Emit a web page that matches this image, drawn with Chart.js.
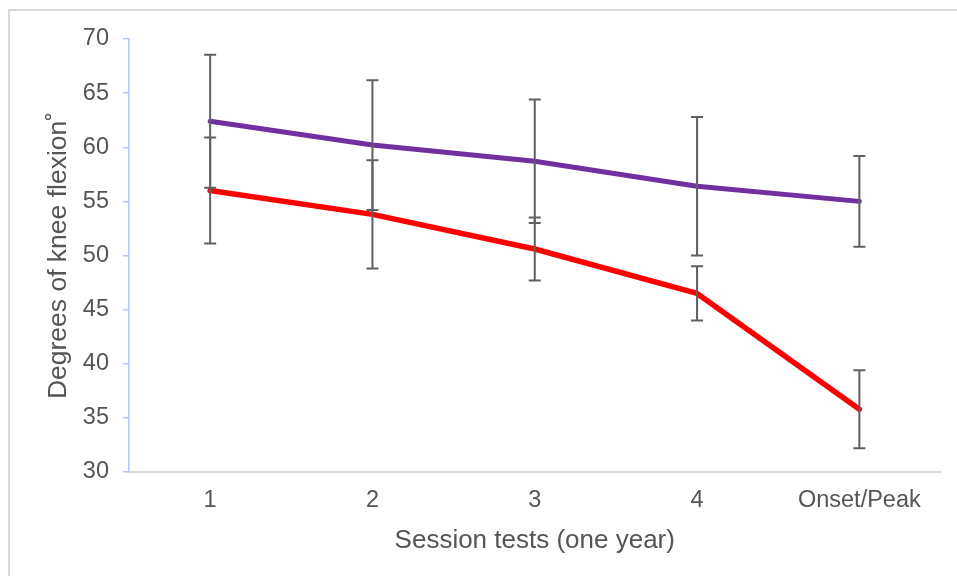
<!DOCTYPE html>
<html>

<head>
  <title>Knee flexion by session</title>
  <script src="https://cdn.jsdelivr.net/npm/chart.js"></script>
  <style>
    body {
      margin: 0;
      width: 957px;
      height: 576px;
      overflow: hidden;
      background: #fff;
      position: relative;
    }
    .frame {
      position: absolute;
      left: 8px; top: 9px;
      width: 980px; height: 600px;
      border: 2px solid #d9d9d9;
    }
    #myChart {
      position: absolute;
      left: 0; top: 0;
    }
  </style>
</head>

<body>
  <div class="frame"></div>
  <canvas id="myChart" width="957" height="576"></canvas>
  <script>
    const sessions = ['1', '2', '3', '4', 'Onset/Peak'];
    const purpleMean = [62.4, 60.2, 58.7, 56.4, 55.0];
    const purpleSd = [6.15, 6.0, 5.7, 6.4, 4.2];
    const redMean = [56.0, 53.8, 50.6, 46.5, 35.8];
    const redSd = [4.9, 5.0, 2.9, 2.5, 3.6];
    const yTicks = [30, 35, 40, 45, 50, 55, 60, 65, 70];

    const errorBars = {
      id: 'errorBars',
      afterDatasetsDraw(chart) {
        const ctx = chart.ctx;
        const xs = chart.scales.x, ys = chart.scales.y;
        ctx.save();
        ctx.strokeStyle = '#606060';
        ctx.lineWidth = 2;
        chart.data.datasets.forEach(ds => {
          ds.data.forEach((v, i) => {
            const x = xs.getPixelForValue(i);
            const top = ys.getPixelForValue(v + ds.sd[i]);
            const bot = ys.getPixelForValue(v - ds.sd[i]);
            ctx.beginPath();
            ctx.moveTo(x, top); ctx.lineTo(x, bot);
            ctx.moveTo(x - 6, top); ctx.lineTo(x + 6, top);
            ctx.moveTo(x - 6, bot); ctx.lineTo(x + 6, bot);
            ctx.stroke();
          });
        });
        ctx.restore();
      }
    };

    const font = { family: '"Liberation Sans", Arial, sans-serif' };

    new Chart(document.getElementById('myChart').getContext('2d'), {
      type: 'line',
      data: {
        labels: sessions,
        datasets: [
          { data: purpleMean, sd: purpleSd, borderColor: '#7030a0', borderWidth: 5 },
          { data: redMean, sd: redSd, borderColor: '#ff0000', borderWidth: 5.5 }
        ].map(d => Object.assign(d, {
          pointRadius: 0, borderCapStyle: 'round', borderJoinStyle: 'round', tension: 0
        }))
      },
      plugins: [errorBars],
      options: {
        responsive: false,
        animation: false,
        layout: { padding: { left: 0, top: 39, right: 16.5, bottom: 0 } },
        plugins: { legend: { display: false }, tooltip: { enabled: false } },
        scales: {
          x: {
            offset: true,
            grid: { display: false, drawTicks: false },
            border: { color: '#d9d9d9', width: 2 },
            ticks: { color: '#555555', padding: 14, font: { ...font, size: 23.5 } },
            title: {
              display: true, text: 'Session tests (one year)', color: '#555555',
              font: { ...font, size: 26 }, padding: { top: 0, bottom: 20 }
            },
            afterFit: s => { s.height = 104; }
          },
          y: {
            min: 30, max: 70,
            afterBuildTicks: s => { s.ticks = yTicks.map(v => ({ value: v })); },
            grid: { drawOnChartArea: false, drawTicks: true, tickLength: 6, color: '#adc9f5', lineWidth: 1.5 },
            border: { color: '#adc9f5', width: 1.5 },
            ticks: { color: '#555555', padding: 14, font: { ...font, size: 23.5 } },
            title: {
              display: true, text: 'Degrees of knee flexion˚', color: '#555555',
              font: { ...font, size: 26.5 }, padding: { top: 43, bottom: 0 }
            },
            afterFit: s => { s.width = 129; }
          }
        }
      }
    });
  </script>
</body>

</html>
